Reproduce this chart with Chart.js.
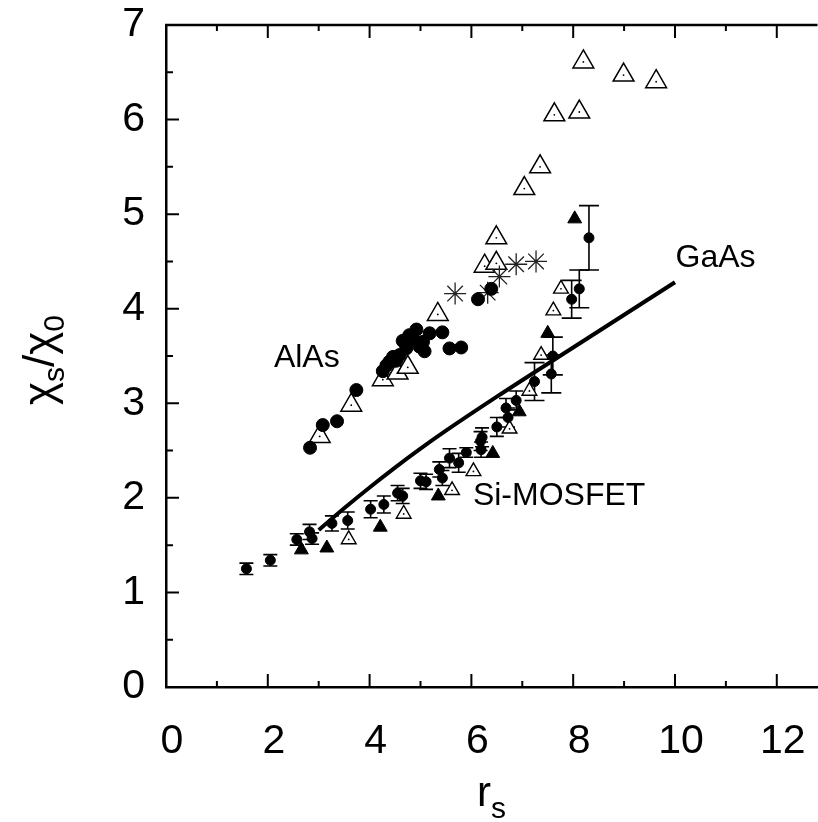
<!DOCTYPE html>
<html>
<head>
<meta charset="utf-8">
<script src="https://cdn.jsdelivr.net/npm/chart.js@4.4.0/dist/chart.umd.min.js"></script>
<style>
  html, body { margin: 0; padding: 0; background: #fff; overflow: hidden; }
  #wrap { width: 818px; height: 822px; position: relative; overflow: hidden; }
</style>
</head>
<body>
<div id="wrap"><canvas id="chi" width="831" height="822"></canvas></div>
<script>
const xTicks = [0, 2, 4, 6, 8, 10, 12];
const yTicks = [0, 1, 2, 3, 4, 5, 6, 7];

// AlAs: filled circles, open triangles, asterisks
const alasCircX = [2.83, 3.08, 3.36, 3.74, 4.26, 4.33, 4.39, 4.46, 4.52, 4.59, 4.65, 4.72, 4.78, 4.85, 4.92, 4.98, 5.05, 5.08, 5.18, 5.43, 5.57, 5.80, 6.13, 6.39];
const alasCircY = [2.53, 2.77, 2.81, 3.14, 3.34, 3.40, 3.44, 3.49, 3.45, 3.51, 3.66, 3.58, 3.72, 3.68, 3.78, 3.60, 3.65, 3.55, 3.74, 3.75, 3.58, 3.59, 4.10, 4.21];
const alasTriX = [3.02, 3.64, 4.26, 4.55, 4.75, 5.34, 6.26, 6.49, 6.49, 7.04, 7.35, 7.63, 8.12, 8.20, 8.99, 9.63];
const alasTriY = [2.65, 2.98, 3.25, 3.32, 3.38, 3.94, 4.45, 4.48, 4.75, 5.27, 5.50, 6.05, 6.08, 6.61, 6.47, 6.40];
const alasStarX = [5.68, 6.32, 6.55, 6.88, 7.27];
const alasStarY = [4.16, 4.17, 4.34, 4.47, 4.50];

// Si-MOSFET: circles with error bars, filled triangles, open triangles
const siCircX = [1.58, 2.05, 2.57, 2.82, 2.87, 3.26, 3.57, 4.02, 4.28, 4.55, 4.65, 5.00, 5.11, 5.37, 5.43, 5.57, 5.75, 5.90, 6.18, 6.19, 6.21, 6.50, 6.68, 6.72, 6.88, 7.24, 7.57, 7.60, 7.97, 8.12, 8.31];
const siCircY = [1.25, 1.34, 1.56, 1.64, 1.57, 1.73, 1.76, 1.88, 1.93, 2.05, 2.02, 2.18, 2.17, 2.30, 2.21, 2.42, 2.37, 2.48, 2.60, 2.51, 2.64, 2.75, 2.95, 2.85, 3.03, 3.23, 3.31, 3.50, 4.10, 4.21, 4.75];
const siCircErr = [0.06, 0.06, 0.06, 0.08, 0.06, 0.08, 0.09, 0.09, 0.09, 0.08, 0.08, 0.08, 0.08, 0.08, 0.08, 0.10, 0.10, 0.05, 0.10, 0.08, 0.10, 0.10, 0.10, 0.10, 0.10, 0.20, 0.20, 0.20, 0.20, 0.20, 0.34];
const siTriX = [2.66, 3.16, 4.21, 5.35, 6.42, 6.94, 7.50, 8.03];
const siTriY = [1.45, 1.47, 1.69, 2.02, 2.47, 2.91, 3.74, 4.95];
const siOpenX = [3.59, 4.67, 5.62, 6.04, 6.75, 7.14, 7.37, 7.61, 7.76];
const siOpenY = [1.56, 1.83, 2.08, 2.28, 2.73, 3.13, 3.51, 3.98, 4.21];

// GaAs curve
const gaasX = [3.0, 3.5, 4.0, 4.5, 5.0, 5.5, 6.5, 8.0, 10.0];
const gaasY = [1.66, 1.89, 2.11, 2.32, 2.52, 2.71, 3.07, 3.59, 4.28];

const labels = [
    { text: "AlAs", x: 2.12, y: 3.38 },
    { text: "GaAs", x: 10.01, y: 4.44 },
    { text: "Si-MOSFET", x: 6.03, y: 1.92 }
];

const pts = (xs, ys) => xs.map((x, i) => ({ x, y: ys[i] }));
const FONT = '"Liberation Sans", Arial, sans-serif';

// inward ticks, top frame line, error bars and text
const frame = {
    id: "frame",
    beforeDatasetsDraw(chart) {
        const { ctx, scales: { x, y } } = chart;
        ctx.save();
        ctx.strokeStyle = "#000";
        ctx.lineWidth = 1.6;
        siCircX.forEach((v, i) => {
            const px = x.getPixelForValue(v);
            const top = y.getPixelForValue(siCircY[i] + siCircErr[i]);
            const bot = y.getPixelForValue(siCircY[i] - siCircErr[i]);
            const cap = siCircErr[i] > 0.15 ? 10 : 7;
            ctx.beginPath();
            ctx.moveTo(px, top); ctx.lineTo(px, bot);
            ctx.moveTo(px - cap, top); ctx.lineTo(px + cap, top);
            ctx.moveTo(px - cap, bot); ctx.lineTo(px + cap, bot);
            ctx.stroke();
        });
        ctx.restore();
    },
    afterDraw(chart) {
        const { ctx, chartArea: a, scales: { x, y } } = chart;
        ctx.save();
        ctx.strokeStyle = "#000";
        ctx.lineWidth = 2.5;
        ctx.beginPath();
        ctx.moveTo(a.left - 1, a.top);
        ctx.lineTo(a.right, a.top);
        ctx.stroke();

        ctx.lineWidth = 2;
        ctx.beginPath();
        for (let v = 1; v <= 12; v++) {
            const px = x.getPixelForValue(v);
            const len = v % 2 === 0 ? 13 : 6;
            ctx.moveTo(px, a.bottom); ctx.lineTo(px, a.bottom - len);
            ctx.moveTo(px, a.top); ctx.lineTo(px, a.top + len);
        }
        for (let v = 0.5; v < 7; v += 0.5) {
            const py = y.getPixelForValue(v);
            const len = v % 1 === 0 ? 13 : 7;
            ctx.moveTo(a.left, py); ctx.lineTo(a.left + len, py);
        }
        ctx.stroke();

        ctx.fillStyle = "#000";
        ctx.textBaseline = "alphabetic";
        ctx.textAlign = "left";
        ctx.font = "32px " + FONT;
        labels.forEach(l => {
            ctx.fillText(l.text, x.getPixelForValue(l.x), y.getPixelForValue(l.y));
        });

        // x title: r_s
        ctx.font = "42px " + FONT;
        ctx.fillText("r", 477, 806);
        const rw = ctx.measureText("r").width;
        ctx.font = "30px " + FONT;
        ctx.fillText("s", 477 + rw, 818);

        // y title: chi_s / chi_0
        ctx.translate(54, 360);
        ctx.rotate(-Math.PI / 2);
        const parts = [["χ", 44, 0], ["s", 30, 10], ["/χ", 44, 0], ["0", 30, 10]];
        let total = 0;
        parts.forEach(p => { ctx.font = p[1] + "px " + FONT; total += ctx.measureText(p[0]).width; });
        let cx = -total / 2;
        parts.forEach(p => {
            ctx.font = p[1] + "px " + FONT;
            ctx.fillText(p[0], cx, 0 + p[2]);
            cx += ctx.measureText(p[0]).width;
        });
        ctx.restore();
    }
};

new Chart(document.getElementById("chi"), {
    type: "scatter",
    data: {
        datasets: [
            {
                type: "line",
                data: pts(gaasX, gaasY),
                borderColor: "#000",
                borderWidth: 4,
                pointRadius: 0,
                fill: false,
                tension: 0.3,
                cubicInterpolationMode: "monotone"
            },
            {
                data: pts(alasCircX, alasCircY),
                pointStyle: "circle",
                pointRadius: 6.5,
                backgroundColor: "#000",
                borderColor: "#000",
                borderWidth: 1
            },
            {
                data: pts(siCircX, siCircY),
                pointStyle: "circle",
                pointRadius: 5,
                backgroundColor: "#000",
                borderColor: "#000",
                borderWidth: 1
            },
            {
                data: pts(siTriX, siTriY),
                pointStyle: "triangle",
                pointRadius: 8,
                backgroundColor: "#000",
                borderColor: "#000",
                borderWidth: 1
            },
            {
                data: pts(alasStarX, alasStarY),
                pointStyle: "star",
                pointRadius: 11,
                backgroundColor: "#000",
                borderColor: "#222",
                borderWidth: 1.3
            },
            {
                data: pts(siOpenX, siOpenY).concat(pts(alasTriX, alasTriY)),
                pointStyle: "circle",
                pointRadius: 0.9,
                backgroundColor: "#000",
                borderWidth: 0
            },
            {
                data: pts(siOpenX, siOpenY),
                pointStyle: "triangle",
                pointRadius: 8.5,
                backgroundColor: "#fff",
                borderColor: "#000",
                borderWidth: 1.4
            },
            {
                data: pts(alasTriX, alasTriY),
                pointStyle: "triangle",
                pointRadius: 12,
                backgroundColor: "#fff",
                borderColor: "#000",
                borderWidth: 1.5
            }
        ]
    },
    options: {
        responsive: false,
        animation: false,
        events: [],
        layout: { padding: { top: 25, right: 0, left: 0, bottom: 0 } },
        plugins: {
            legend: { display: false },
            tooltip: { enabled: false }
        },
        scales: {
            x: {
                type: "linear",
                min: 0,
                max: 12.8,
                afterBuildTicks: s => { s.ticks = xTicks.map(v => ({ value: v })); },
                afterFit: s => {
                    s.height = 135;
                    s.paddingLeft = 0;
                    s.paddingRight = 0;
                },
                grid: { display: false },
                border: { display: true, color: "#000", width: 2.5 },
                ticks: {
                    color: "#000",
                    font: { family: FONT, size: 41 },
                    padding: 22,
                    labelOffset: 6,
                    maxRotation: 0
                }
            },
            y: {
                type: "linear",
                min: 0,
                max: 7,
                afterBuildTicks: s => { s.ticks = yTicks.map(v => ({ value: v })); },
                afterFit: s => {
                    s.width = 166;
                    s.paddingTop = 0;
                    s.paddingBottom = 0;
                },
                grid: { display: false },
                border: { display: true, color: "#000", width: 2.5 },
                ticks: {
                    color: "#000",
                    font: { family: FONT, size: 41 },
                    padding: 13
                }
            }
        }
    },
    plugins: [frame]
});
</script>
</body>
</html>
